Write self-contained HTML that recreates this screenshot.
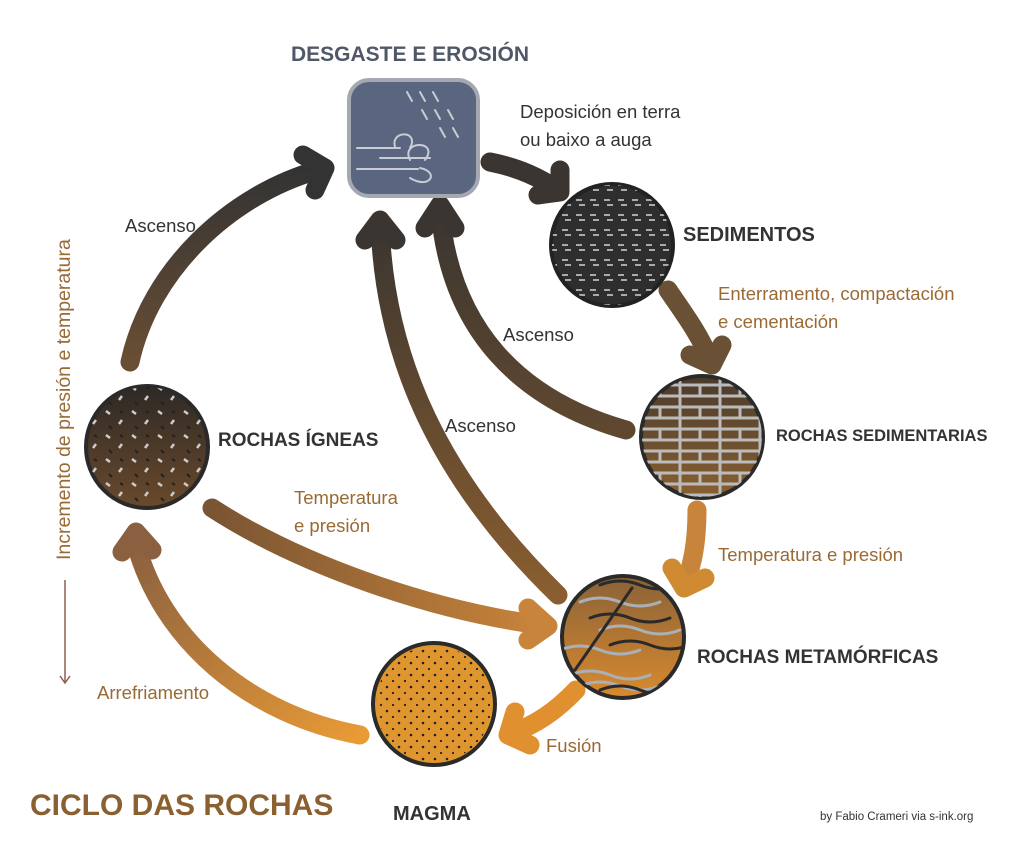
<!DOCTYPE html>
<html><head><meta charset="utf-8"><style>
body{margin:0;background:#fff;width:1024px;height:864px;overflow:hidden}
svg{display:block}
text{font-family:"Liberation Sans",sans-serif}
</style></head><body>
<svg width="1024" height="864" viewBox="0 0 1024 864">
<defs>
<linearGradient id="gIg" x1="0" y1="0" x2="0" y2="1"><stop offset="0" stop-color="#333"/><stop offset="1" stop-color="#6a4e34"/></linearGradient>
<linearGradient id="gSr" x1="0" y1="0" x2="0" y2="1"><stop offset="0" stop-color="#3a3530"/><stop offset="1" stop-color="#604830"/></linearGradient>
<linearGradient id="gMe" x1="0" y1="0" x2="0" y2="1"><stop offset="0" stop-color="#3a3530"/><stop offset="1" stop-color="#8a5e30"/></linearGradient>
<linearGradient id="gIM" x1="0" y1="0" x2="1" y2="0"><stop offset="0" stop-color="#7a5533"/><stop offset="1" stop-color="#c8843a"/></linearGradient>
<linearGradient id="gMa" x1="1" y1="1" x2="0" y2="0"><stop offset="0" stop-color="#e89a35"/><stop offset="1" stop-color="#8a6040"/></linearGradient>
<linearGradient id="cIg" x1="0" y1="0" x2="0" y2="1"><stop offset="0" stop-color="#2e2925"/><stop offset="1" stop-color="#6a4a2c"/></linearGradient>
<linearGradient id="cSr" x1="0" y1="0" x2="0" y2="1"><stop offset="0" stop-color="#4a3a2c"/><stop offset="1" stop-color="#8a6030"/></linearGradient>
<linearGradient id="cMe" x1="0" y1="0" x2="0" y2="1"><stop offset="0" stop-color="#8a6238"/><stop offset="1" stop-color="#d88a2e"/></linearGradient>
<pattern id="pSed" width="14" height="15" patternUnits="userSpaceOnUse"><line x1="2" y1="5" x2="8" y2="5" stroke="#aaa" stroke-width="2"/><line x1="5" y1="10" x2="11" y2="10" stroke="#aaa" stroke-width="2"/></pattern>
<pattern id="pIg" width="26" height="24" patternUnits="userSpaceOnUse"><line x1="2" y1="3" x2="6" y2="6" stroke="#ccc" stroke-width="2.5"/><line x1="15" y1="16" x2="18" y2="12" stroke="#ccc" stroke-width="2.5"/><line x1="16" y1="3" x2="19" y2="5" stroke="#222" stroke-width="2"/><line x1="5" y1="18" x2="8" y2="21" stroke="#222" stroke-width="2"/></pattern>
<pattern id="pBr" width="40" height="22" patternUnits="userSpaceOnUse"><rect width="40" height="22" fill="none" stroke="#bbb" stroke-width="3"/><line x1="20" y1="11" x2="20" y2="22" stroke="#bbb" stroke-width="3"/><line x1="0" y1="11" x2="40" y2="11" stroke="#bbb" stroke-width="3"/></pattern>
<pattern id="pMa" width="12" height="12" patternUnits="userSpaceOnUse"><circle cx="3" cy="3" r="1.3" fill="#222"/><circle cx="9" cy="9" r="1.1" fill="#222"/></pattern>
<clipPath id="c1"><circle cx="612" cy="245" r="60"/></clipPath>
<clipPath id="c2"><circle cx="147" cy="447" r="60"/></clipPath>
<clipPath id="c3"><circle cx="702" cy="437" r="60"/></clipPath>
<clipPath id="c4"><circle cx="623" cy="637" r="60"/></clipPath>
</defs>
<g fill="none" stroke-linecap="round" stroke-linejoin="round" stroke-width="19">
<path d="M130 362 C150 270 230 195 318 170" stroke="url(#gIg)"/>
<polyline points="303,155 325,168 315,190" stroke="#333"/>
<path d="M490 162 C520 168 540 178 558 190" stroke="#3a3530"/>
<polyline points="560,170 560,192 538,195" stroke="#3a3530"/>
<path d="M668 290 C685 315 700 335 710 360" stroke="#6a5034"/>
<polyline points="690,355 712,365 722,345" stroke="#6a5034"/>
<path d="M626 430 C520 400 450 330 440 210" stroke="url(#gSr)"/>
<polyline points="425,228 440,205 455,228" stroke="#3a3530"/>
<path d="M558 595 C440 480 385 360 380 225" stroke="url(#gMe)"/>
<polyline points="365,240 380,220 396,240" stroke="#3a3530"/>
<path d="M212 508 C300 565 430 610 540 625" stroke="url(#gIM)"/>
<polyline points="528,608 548,626 528,640" stroke="#c8843a"/>
<path d="M697 510 C697 545 692 565 685 585" stroke="#c8843a"/>
<polyline points="672,568 684,588 705,578" stroke="#d08a32"/>
<path d="M576 690 C555 712 535 725 512 733" stroke="#e0902e"/>
<polyline points="515,712 508,735 530,745" stroke="#e0902e"/>
<path d="M360 735 C250 715 160 640 135 540" stroke="url(#gMa)"/>
<polyline points="122,552 136,532 152,550" stroke="#8a6040"/>
</g>
<rect x="349" y="80" width="129" height="116" rx="20" fill="#5a6580" stroke="#a4a8b0" stroke-width="4"/>
<g stroke="#c8ccd4" stroke-width="2" fill="none" stroke-linecap="round">
<path d="M357 148 H400 M380 158 H430 M357 169 H418"/>
<path d="M395 147 C390 130 420 130 410 148 M410 160 C400 140 440 140 425 160 M420 168 C440 172 430 190 410 178"/>
<path d="M407 92 l5 9 M420 92 l5 9 M433 92 l5 9 M422 110 l5 9 M435 110 l5 9 M448 110 l5 9 M440 128 l5 9 M453 128 l5 9"/>
</g>
<circle cx="612" cy="245" r="61" fill="#2e2e2e" stroke="#222" stroke-width="4"/>
<rect x="550" y="185" width="125" height="125" fill="url(#pSed)" clip-path="url(#c1)"/>
<circle cx="147" cy="447" r="61" fill="url(#cIg)" stroke="#2a2a2a" stroke-width="4"/>
<rect x="85" y="385" width="125" height="125" fill="url(#pIg)" clip-path="url(#c2)"/>
<circle cx="702" cy="437" r="61" fill="url(#cSr)" stroke="#2a2a2a" stroke-width="4"/>
<rect x="640" y="375" width="125" height="125" fill="url(#pBr)" clip-path="url(#c3)"/>
<circle cx="623" cy="637" r="61" fill="url(#cMe)" stroke="#2a2a2a" stroke-width="4"/>
<g clip-path="url(#c4)" fill="none" stroke-width="3" stroke-linecap="round">
<path d="M580 602 q20-8 40 0 t40 0 M600 630 q20-8 40 0 t40 0 M560 650 q20-8 40 0 t40 0 M570 675 q20-8 40 0 t40 0 M580 686 q20-8 40 0 t40 0" stroke="#aab0b8"/>
<path d="M590 618 q20-8 40 0 t40 0 M610 645 q20-8 40 0 t40 0 M600 690 q20-8 40 0 t40 0 M600 585 q20-8 40 0 t40 0" stroke="#2a2a2a"/>
<path d="M575 670 L632 588" stroke="#2a2a2a"/>
</g>
<circle cx="434" cy="704" r="61" fill="#e0962e" stroke="#2a2a2a" stroke-width="4"/>
<circle cx="434" cy="704" r="58" fill="url(#pMa)"/>
<g font-weight="bold" fill="#333">
<text x="410" y="61" text-anchor="middle" font-size="21" fill="#505868">DESGASTE E EROSIÓN</text>
<text x="683" y="241" font-size="20">SEDIMENTOS</text>
<text x="218" y="446" font-size="19">ROCHAS ÍGNEAS</text>
<text x="776" y="441" font-size="16.5">ROCHAS SEDIMENTARIAS</text>
<text x="697" y="663" font-size="19">ROCHAS METAMÓRFICAS</text>
<text x="393" y="820" font-size="20">MAGMA</text>
<text x="30" y="815" font-size="30" fill="#8a6030">CICLO DAS ROCHAS</text>
</g>
<g font-size="18.5" fill="#333">
<text x="520" y="118">Deposición en terra</text>
<text x="520" y="146">ou baixo a auga</text>
<text x="125" y="232">Ascenso</text>
<text x="503" y="341">Ascenso</text>
<text x="445" y="432">Ascenso</text>
</g>
<g font-size="18.5" fill="#9a6a35">
<text x="718" y="300">Enterramento, compactación</text>
<text x="718" y="328">e cementación</text>
<text x="294" y="504">Temperatura</text>
<text x="294" y="532">e presión</text>
<text x="718" y="561">Temperatura e presión</text>
<text x="97" y="699">Arrefriamento</text>
<text x="546" y="752">Fusión</text>
<text transform="translate(70,560) rotate(-90)" font-size="19.5">Incremento de presión e temperatura</text>
</g>
<line x1="65" y1="580" x2="65" y2="682" stroke="#8a6050" stroke-width="1.5"/>
<polyline points="60,676 65,683 70,676" fill="none" stroke="#8a6050" stroke-width="1.5"/>
<text x="820" y="820" font-size="11.5" fill="#333">by Fabio Crameri via s-ink.org</text>
</svg>
</body></html>
